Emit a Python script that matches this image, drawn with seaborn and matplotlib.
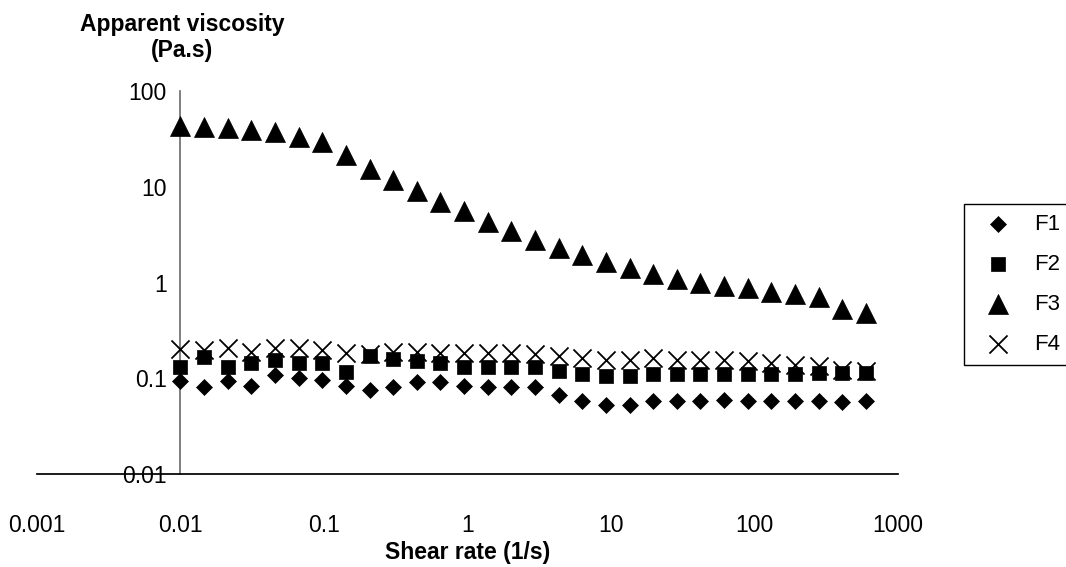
import numpy as np
import pandas as pd
import seaborn as sns
import matplotlib.pyplot as plt
from matplotlib.ticker import FixedLocator, FuncFormatter, NullLocator

# Shear rate (1/s) and apparent viscosity (Pa.s)
shear_rate = [0.01, 0.0146, 0.0214, 0.0312, 0.0456, 0.0666, 0.0973, 0.142, 0.208, 0.303,
              0.444, 0.648, 0.947, 1.38, 2.02, 2.95, 4.32, 6.31, 9.22, 13.5,
              19.7, 28.8, 42.0, 61.4, 89.7, 131, 191, 280, 409, 597]
f1 = [0.093, 0.082, 0.093, 0.084, 0.109, 0.100, 0.095, 0.084, 0.075, 0.081,
      0.091, 0.091, 0.084, 0.081, 0.081, 0.081, 0.0675, 0.0575, 0.053, 0.053,
      0.0575, 0.0575, 0.0575, 0.060, 0.0575, 0.0575, 0.0575, 0.0575, 0.056, 0.0575]
f2 = [0.132, 0.166, 0.130, 0.145, 0.157, 0.145, 0.145, 0.117, 0.172, 0.160,
      0.152, 0.145, 0.132, 0.132, 0.132, 0.130, 0.119, 0.110, 0.105, 0.105,
      0.110, 0.110, 0.110, 0.110, 0.110, 0.110, 0.111, 0.113, 0.113, 0.113]
f3 = [42.7, 41.6, 41.0, 39.2, 37.7, 33.0, 29.0, 21.3, 15.5, 11.9,
      9.1, 7.0, 5.6, 4.3, 3.42, 2.75, 2.31, 1.94, 1.63, 1.41,
      1.24, 1.09, 0.99, 0.91, 0.875, 0.795, 0.76, 0.70, 0.535, 0.486]
f4 = [0.201, 0.195, 0.205, 0.190, 0.209, 0.205, 0.197, 0.182, 0.178, 0.190,
      0.190, 0.185, 0.185, 0.185, 0.183, 0.180, 0.169, 0.162, 0.156, 0.156,
      0.162, 0.156, 0.155, 0.155, 0.150, 0.144, 0.138, 0.133, 0.123, 0.118]
samples = ['F1', 'F2', 'F3', 'F4']
x_ticks = [0.001, 0.01, 0.1, 1, 10, 100, 1000]
y_ticks = [0.01, 0.1, 1, 10, 100]

sns.set_theme(style='white')
plt.rcParams['font.family'] = ['Liberation Sans', 'DejaVu Sans']
plt.rcParams['text.color'] = 'black'

df = pd.DataFrame({
    'Shear rate': shear_rate * 4,
    'Viscosity': f1 + f2 + f3 + f4,
    'Sample': np.repeat(samples, len(shear_rate)),
})

fig = plt.figure(figsize=(10.66, 5.67), dpi=100)
ax = fig.add_axes([0.0347, 0.164, 0.8077, 0.6755])

markers = {'F1': 'D', 'F2': 's', 'F3': '^', 'F4': 'x'}
sizes = {'F1': 66, 'F2': 100, 'F3': 207, 'F4': 169}

for name in samples:
    sub = df[df['Sample'] == name]
    lw = 1.3 if name == 'F4' else 0.5
    sns.scatterplot(data=sub, x='Shear rate', y='Viscosity', marker=markers[name],
                    s=sizes[name], color='black', edgecolor='black', linewidth=lw,
                    ax=ax, label=name, zorder=3)

ax.set_xscale('log')
ax.set_yscale('log')
ax.set_xlim(0.001, 1000)
ax.set_ylim(0.01, 100)

# y axis crosses at x = 0.01
ax.spines['left'].set_position(('data', 0.01))
ax.spines['left'].set_color('#707070')
ax.spines['bottom'].set_color('black')
for s in ['top', 'right']:
    ax.spines[s].set_visible(False)

fmt = FuncFormatter(lambda v, p: f'{v:g}')
ax.xaxis.set_major_locator(FixedLocator(x_ticks))
ax.yaxis.set_major_locator(FixedLocator(y_ticks))
ax.xaxis.set_major_formatter(fmt)
ax.yaxis.set_major_formatter(fmt)
ax.xaxis.set_minor_locator(NullLocator())
ax.yaxis.set_minor_locator(NullLocator())
ax.tick_params(axis='x', direction='out', length=5, width=1, color='black',
               labelsize=16.5, labelcolor='black', pad=24)
ax.tick_params(axis='y', direction='out', length=5, width=1, color='#707070',
               labelsize=16.5, labelcolor='black', pad=5)

ax.set_xlabel('Shear rate (1/s)', fontsize=16.5, fontweight='bold', labelpad=3,
              color='black')
ax.set_ylabel('')
fig.text(0.171, 0.934, 'Apparent viscosity\n(Pa.s)', ha='center', va='center',
         fontsize=16.5, fontweight='bold', linespacing=1.15)

leg = ax.legend(loc='upper left', bbox_to_anchor=(0.904, 0.640),
                bbox_transform=fig.transFigure, fontsize=16, frameon=True,
                fancybox=False, edgecolor='black', framealpha=1,
                labelspacing=0.85, handletextpad=0.5, borderpad=0.45,
                borderaxespad=0, handlelength=2.2, scatterpoints=1)
leg.get_frame().set_linewidth(1)

fig.savefig('out.png', dpi=100)
